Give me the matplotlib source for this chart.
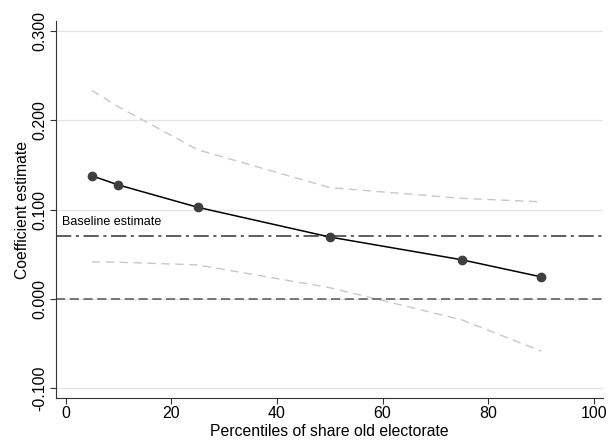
import matplotlib
matplotlib.use("Agg")
import matplotlib.pyplot as plt

plt.rcParams['font.family'] = ['Liberation Sans', 'DejaVu Sans']

# percentiles and estimates
pct = [5, 10, 25, 50, 75, 90]
coef = [0.1377, 0.1275, 0.1025, 0.0692, 0.0437, 0.0246]
ci_upper = [0.2333, 0.2150, 0.1669, 0.1245, 0.1125, 0.1086]
ci_lower = [0.0414, 0.0410, 0.0380, 0.0125, -0.0235, -0.0585]
baseline = 0.0706
yticks = [-0.1, 0.0, 0.1, 0.2, 0.3]
xticks = [0, 20, 40, 60, 80, 100]

fig = plt.figure(figsize=(6.08, 4.44), dpi=100)
ax = fig.add_axes([0.0921, 0.1036, 0.8997, 0.8491])

for y in yticks:
    ax.axhline(y, color='#e6e6e6', lw=0.9, zorder=0)

ax.plot(pct, ci_upper, color='#c8c8c8', lw=1.0, ls=(0, (6, 4)), zorder=1)
ax.plot(pct, ci_lower, color='#c8c8c8', lw=1.0, ls=(0, (6, 4)), zorder=1)
ax.axhline(0, color='#555555', lw=1.1, ls=(0, (6, 3)), zorder=2)
ax.axhline(baseline, color='#333333', lw=1.1, ls=(0, (10, 3, 2, 3)), zorder=2)
ax.plot(pct, coef, color='black', lw=1.1, zorder=3)
ax.plot(pct, coef, 'o', color='#3f3f3f', ms=6, zorder=4)

ax.text(-0.6, 0.0855, 'Baseline estimate', fontsize=9, va='center', ha='left')

ax.set_xlim(-1.8, 101.7)
ax.set_ylim(-0.111, 0.311)
ax.set_xticks(xticks)
ax.set_yticks(yticks)
ax.set_yticklabels(['%.3f' % v for v in yticks], rotation=90, va='center')
ax.tick_params(labelsize=11.5, length=4, width=0.8, color='#333333', pad=2)
ax.set_xlabel('Percentiles of share old electorate', fontsize=11.3, labelpad=2)
ax.set_ylabel('Coefficient estimate', fontsize=11.3, labelpad=2)

for s in ['top', 'right']:
    ax.spines[s].set_visible(False)
for s in ['left', 'bottom']:
    ax.spines[s].set_color('#333333')
    ax.spines[s].set_linewidth(0.8)

fig.savefig('out.png', dpi=100)
